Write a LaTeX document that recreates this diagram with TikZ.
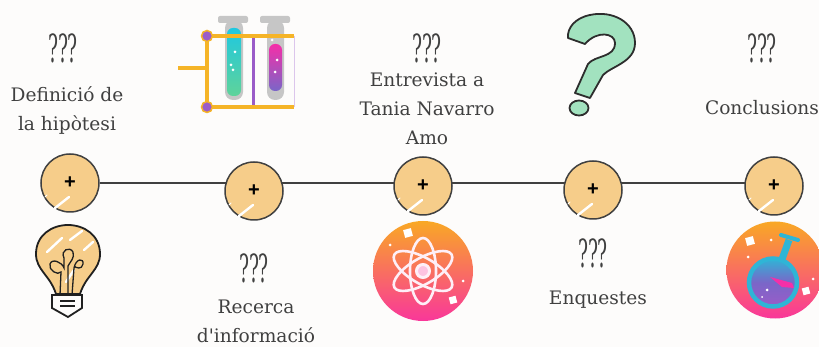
\documentclass[tikz,border=0pt]{standalone}
\usepackage{fontspec}
\setmainfont{DejaVu Serif}[Ligatures=TeXOff]
\newfontfamily\plusfont{Liberation Sans}
\usetikzlibrary{positioning,backgrounds}

\definecolor{paper}{HTML}{FDFCFB}
\definecolor{ink}{HTML}{404040}
\definecolor{sand}{HTML}{F6CD8A}
\definecolor{mint}{HTML}{A2E2BF}
\definecolor{amber}{HTML}{F5B427}
\definecolor{violet}{HTML}{9A5CC8}
\definecolor{sunset}{HTML}{F9A825}
\definecolor{rosy}{HTML}{F9379A}
\definecolor{aqua}{HTML}{1FC8E0}
\definecolor{leaf}{HTML}{5FD39A}
\definecolor{hotpink}{HTML}{F52FA8}
\definecolor{lilac}{HTML}{7A66C8}
\definecolor{lagoon}{HTML}{2FB5D6}

\begin{document}
\begin{tikzpicture}[x=1pt,y=-1pt,
  plusdot/.style={circle,draw=ink,line width=1.5pt,fill=sand,minimum size=58pt,inner sep=0pt,
  	font=\fontsize{20}{20}\selectfont\plusfont\bfseries,text=black},
  qmarks/.style={inner sep=0pt,text=ink,font=\fontsize{31}{31}\selectfont},
  caption/.style={align=center,inner sep=0pt,text=ink,font=\fontsize{18.6}{29}\selectfont},
  glint/.style={white,line width=2.4pt,line cap=round},
  badge/.style={circle,minimum size=#1,inner sep=0pt,top color=sunset,bottom color=rosy},
  badge/.default=100pt,
  sparkle/.style={circle,fill=white,inner sep=0pt,minimum size=#1},
  sparkle/.default=3pt,
  star/.style={rectangle,fill=white,inner sep=0pt,minimum size=#1,rotate=15},
  node distance=6pt]
 \useasboundingbox (0,0) rectangle (819,347);

 % timeline
 \foreach \name/\x/\y in {n1/70/183,n2/254/191,n3/423/186,n4/593/190,n5/774/186}
 {
 	\node[plusdot] (\name) at (\x,\y) {+};
 	\draw[glint] ([shift={(-15,25)}]\name.center) -- ([shift={(-1,14)}]\name.center);
 	\draw[glint,line width=1pt] ([shift={(-25,14)}]\name.center) -- ([shift={(-23,12)}]\name.center);
 }
 \scoped[on background layer]
 {
 	\fill[paper] (0,0) rectangle (819,347);
 	\draw[ink,line width=2.4pt] (n1) -- (n1 -| n2);
 	\draw[ink,line width=2.4pt] (n1 -| n2) -- (n1 -| n3);
 	\draw[ink,line width=2.4pt] (n1 -| n3) -- (n1 -| n4);
 	\draw[ink,line width=2.4pt] (n1 -| n4) -- (n1 -| n5);
 }

 % texts
 \node[qmarks] (q1) at (63,48) {\scalebox{.6}[1.25]{???}};
 \node[caption] (t1) at (67,110) {Definició de\\la hipòtesi};
 \node[qmarks] (q2) at (254,268) {\scalebox{.6}[1.25]{???}};
 \node[caption] (t2) at (256,321) {Recerca\\d'informació};
 \node[qmarks] (q3) at (427,48) {\scalebox{.6}[1.25]{???}};
 \node[caption] (t3) at (427,109) {Entrevista a\\Tania Navarro\\Amo};
 \node[qmarks] (q4) at (593,253) {\scalebox{.6}[1.25]{???}};
 \node[caption] (t4) at (598,300) {Enquestes};
 \node[qmarks] (q5) at (762,48) {\scalebox{.6}[1.25]{???}};
 \node[caption] (t5) at (762,108) {Conclusions};

 % tubes
 \fill[gray!45,rounded corners=2pt] (218,16) rectangle (248,23);
 \fill[gray!45,rounded corners=2pt] (260,16) rectangle (290,23);
 \fill[gray!45,rounded corners=8pt] (225,20) -- (225,100) -- (243,100) -- (243,20) -- cycle;
 \fill[gray!45,rounded corners=8pt] (267,20) -- (267,100) -- (284,100) -- (284,20) -- cycle;
 \shade[top color=aqua,bottom color=leaf,rounded corners=6pt]
 	(227,28) -- (227,96) -- (241,96) -- (241,28) -- cycle;
 \shade[top color=hotpink,bottom color=lilac,rounded corners=6pt]
 	(269,44) -- (269,91) -- (282,91) -- (282,44) -- cycle;
 \foreach \x/\y in {231/65,235/52,233/70,272/40,277/60,275/72}
 	\node[sparkle] (s\x) at (\x,\y) {};
 \draw[violet!35,line width=1pt] (294,36) -- (294,107);
 \draw[violet,line width=3pt] (253,38) -- (253,107);
 \draw[amber,line width=3.2pt] (294,36) -- (207,36) -- (207,107) -- (294,107);
 \draw[amber,line width=3.2pt] (178,68) -- (207,68);
 \foreach \y in {36,107}
 	\node[circle,draw=amber,fill=violet,line width=1.5pt,minimum size=11pt,inner sep=0pt] (d\y) at (207,\y) {};

 % question mark
 \draw[ink!70!black,fill=mint,line width=1.8pt,line join=round]
 	(568,38) .. controls (567,28) and (575,18) .. (590,15)
 	.. controls (612,10) and (635,22) .. (635,43)
 	.. controls (635,62) and (612,66) .. (603,75) -- (590,98) -- (575,93) -- (588,64)
 	.. controls (595,55) and (615,58) .. (615,43)
 	.. controls (615,33) and (597,30) .. (585,44) -- cycle;
 \draw[ink!70!black,fill=mint,line width=1.8pt] (579,108) ellipse (9.5 and 7.5);

 % bulb
 \draw[ink!50!black,fill=sand,line width=1.8pt] (56,294)
 	.. controls (50,275) and (36,270) .. (36,254)
 	.. controls (36,235) and (52,225) .. (68,225)
 	.. controls (84,225) and (100,235) .. (100,254)
 	.. controls (100,270) and (86,275) .. (80,294) -- cycle;
 \draw[glint] (70,240) -- (82,231);
 \draw[glint] (47,252) -- (62,238);
 \draw[glint] (84,250) -- (93,242);
 \draw[glint] (66,282) -- (74,270);
 \draw[ink!50!black,fill=paper,line width=1.8pt] (52,295) -- (82,295) -- (82,308) -- (68,317) -- (52,308) -- cycle;
 \draw[ink!50!black,line width=1.3pt] (60,301) -- (75,301) (60,306) -- (75,306);
 \draw[ink!50!black,line width=1.3pt] (60,295) -- (61,272) .. controls (58,276) and (48,270) .. (50,264) .. controls (52,258) and (62,262) .. (64,268) -- (64,258) .. controls (60,250) and (70,246) .. (73,252) .. controls (75,258) and (70,262) .. (68,266) -- (68,295);
 \draw[ink!50!black,line width=1.3pt] (72,295) -- (74,268) .. controls (76,258) and (84,258) .. (83,264) .. controls (82,270) and (76,268) .. (74,266);

 % atom
 \node[badge] (atom) at (423,271) {};
 \foreach \a in {90,30,-30}
 	\draw[white!92!rosy,line width=2.6pt,rotate around={\a:(atom.center)}] (atom.center) ellipse (33 and 13);
 \draw[white!92!rosy,fill=white!70!rosy,line width=3pt] (atom.center) circle (6.5);
 \node[star=8pt] (atom1) at (408,233) {};
 \node[star=7pt] (atom2) at (453,300) {};
 \node[sparkle] (atom3) at (390,245) {};
 \node[sparkle] (atom4) at (463,281) {};

 % flask
 \node[badge=97pt] (flask) at (775,270) {};
 \draw[lagoon,line width=7pt] (781,262) -- (789,240);
 \draw[lagoon,line width=4pt,line cap=round] (781,235) -- (798,240);
 \shade[top color=lagoon,bottom color=violet,middle color=lilac,draw=lagoon,line width=4.5pt] (773,282.5) circle (24);
 \fill[hotpink] (770,277) -- (792,283) -- (794,288) -- (782,287) -- cycle;
 \node[star=8pt] (flask1) at (750,241) {};
 \node[star=7pt] (flask2) at (806,291) {};
 \node[sparkle] (flask3) at (771,240) {};
 \node[sparkle] (flask4) at (748,257) {};
 \node[sparkle] (flask5) at (813,279) {};
 \node[sparkle] (flask6) at (767,290) {};
 \node[sparkle=2pt] (flask7) at (762,297) {};
\end{tikzpicture}
\end{document}
